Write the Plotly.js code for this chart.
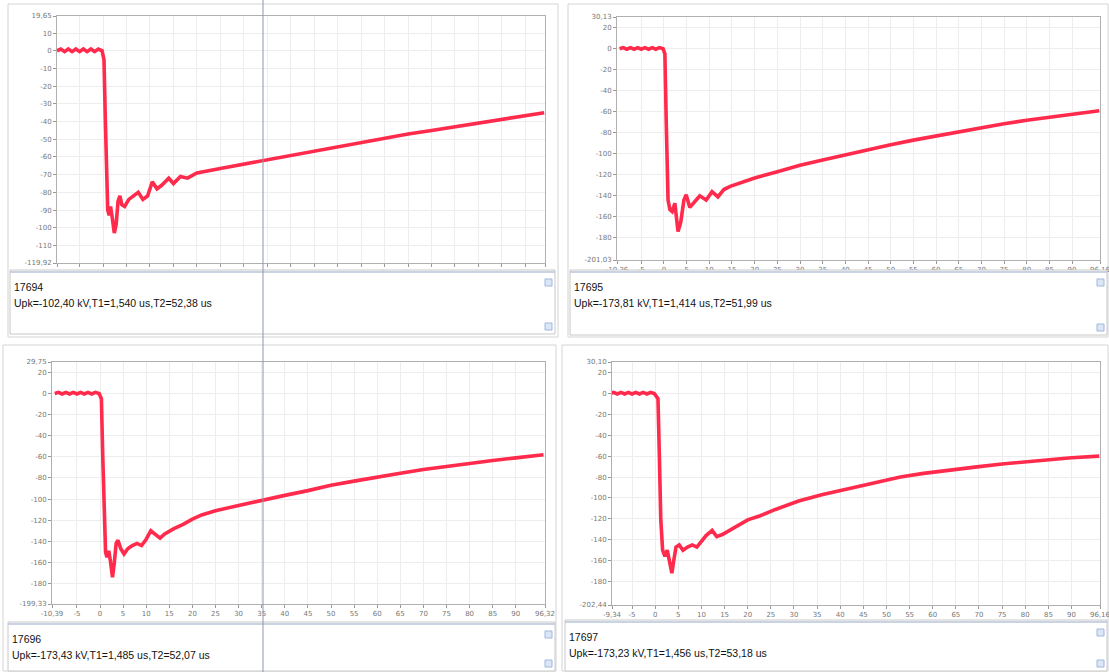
<!DOCTYPE html>
<html>
<head>
<meta charset="utf-8">
<script src="https://cdn.plot.ly/plotly-3.0.1.min.js"></script>
<style>html,body{margin:0;padding:0;background:#fff;}#chart{width:1109px;height:672px;}</style>
</head>
<body>
<div id="chart"></div>
<script>
// ---------- data (time in us, voltage in kV) ----------
const shotIds = ["17694", "17695", "17696", "17697"];
const shotTexts = [
  "Upk=-102,40 kV,T1=1,540 us,T2=52,38 us",
  "Upk=-173,81 kV,T1=1,414 us,T2=51,99 us",
  "Upk=-173,43 kV,T1=1,485 us,T2=52,07 us",
  "Upk=-173,23 kV,T1=1,456 us,T2=53,18 us"
];

const preT = [-9.8, -9.0, -8.2, -7.4, -6.6, -5.8, -5.0, -4.2, -3.4, -2.6, -1.8, -1.0, -0.2];
const preV = [0, 1, -0.5, 1, -0.5, 1, -0.5, 1, -0.5, 1, -0.5, 1, 0];

const t1 = [0.2, 0.5, 0.8, 1.0, 1.3, 1.6, 2.0, 2.4, 2.8, 3.2, 3.6, 4.0, 4.6, 5.5, 6.5, 7.5, 8.5, 9.5, 10.5, 11.5, 12.5, 14, 15, 16.5, 18, 20, 25, 30, 35, 40, 45, 50, 55, 60, 65, 70, 75, 80, 85, 90, 94];
const v1 = [-5, -40, -80, -90, -93, -88, -95, -103, -98, -85, -82, -87, -88, -84, -82, -80, -84, -82, -74, -78, -76, -72, -75, -71, -72, -69, -66.5, -64, -61.5, -59, -56.5, -54, -51.5, -49.5, -47, -45, -43, -41, -39, -36.5, -35];

const t2 = [0.2, 0.5, 0.9, 1.3, 1.8, 2.4, 3.1, 3.7, 4.4, 4.9, 5.7, 7.1, 7.9, 9.3, 10.6, 11.9, 13.2, 14.6, 20, 25, 30, 35, 40, 45, 50, 55, 60, 65, 70, 75, 80, 85, 90, 96];
const v2 = [-5, -70, -144, -153, -155, -147, -174, -165, -144, -139, -151, -144, -140, -144, -136, -141, -134, -131, -123, -117, -111, -106, -101, -96, -91.5, -87, -83, -79, -75, -71.5, -68, -65, -62, -59];

const t3 = [0.3, 0.6, 0.9, 1.2, 1.5, 1.9, 2.3, 2.7, 3.1, 3.5, 3.9, 4.5, 5.2, 6, 7, 8, 9, 10, 11, 12, 13, 14, 16, 18, 20, 22, 25, 30, 35, 40, 45, 50, 55, 60, 65, 70, 75, 80, 85, 90, 96];
const v3 = [-5, -60, -120, -150, -155, -149, -160, -174, -160, -142, -139, -147, -152, -147, -144, -142, -144, -138, -130, -133, -137, -133, -128, -124, -119, -115, -111, -106, -101, -96.5, -92, -87, -83, -79, -75.5, -72, -69, -66, -63.5, -61, -58];

const t4 = [0.6, 0.9, 1.2, 1.6, 2.1, 2.6, 3.0, 3.6, 4.0, 4.5, 5.2, 6, 7, 8, 9, 10, 11, 12.3, 13.3, 14.5, 16, 18, 20, 22.7, 26, 31, 36, 42, 47, 53, 58, 64, 70, 75, 80, 85, 90, 96];
const v4 = [-5, -60, -120, -150, -156, -150, -160, -172, -160, -147, -145, -150, -147, -145, -147, -142, -136, -131, -137, -135, -131, -126, -121, -117, -111, -103, -97, -91, -86, -80, -76.5, -73, -70, -67.5, -65.5, -63.5, -61.5, -60];

// axis ranges and their end labels as printed by the recorder
const xRanges = [[-9.81, 94.18], [-10.36, 96.16], [-10.39, 96.32], [-9.34, 96.16]];
const xEndLabels = [["-9,81", "94,18"], ["-10,36", "96,16"], ["-10,39", "96,32"], ["-9,34", "96,16"]];
const yRanges = [[-119.92, 19.65], [-201.03, 30.13], [-199.33, 29.75], [-202.44, 30.10]];
const yEndLabels = [["-119,92", "19,65"], ["-201,03", "30,13"], ["-199,33", "29,75"], ["-202,44", "30,10"]];
const xTicks = [-5, 0, 5, 10, 15, 20, 25, 30, 35, 40, 45, 50, 55, 60, 65, 70, 75, 80, 85, 90];
const yTicksSmall = [-110, -100, -90, -80, -70, -60, -50, -40, -30, -20, -10, 0, 10];
const yTicksLarge = [-180, -160, -140, -120, -100, -80, -60, -40, -20, 0, 20];

// ---------- layout geometry (pixels) ----------
const W = 1109, H = 672;
const px = x => x / W;
const py = y => 1 - y / H;
const plotBoxes = [[57, 545, 16, 263], [617, 1100, 17, 260], [52, 545, 362, 604], [612, 1100, 362, 605]];
const textBoxes = [[10, 555, 270, 334], [570, 1107, 270, 335], [8, 555, 622, 671], [565, 1107, 620, 671]];
const frames = [[8, 558, 4, 337], [568, 1108, 4, 337], [3, 556, 345, 671], [562, 1108, 345, 671]];

const tSeries = [t1, t2, t3, t4];
const vSeries = [v1, v2, v3, v4];

const traces = [];
const layout = {
  width: W, height: H,
  margin: {l: 0, r: 0, t: 0, b: 0},
  paper_bgcolor: "#ffffff",
  plot_bgcolor: "#ffffff",
  showlegend: false,
  font: {family: "DejaVu Sans, sans-serif", size: 7, color: "#777"},
  shapes: [],
  annotations: []
};

for (let i = 0; i < 4; i++) {
  const sfx = i === 0 ? "" : String(i + 1);
  const [xl, xr, yt, yb] = plotBoxes[i];
  traces.push({
    type: "scatter", mode: "lines",
    x: preT.concat(tSeries[i]),
    y: preV.concat(vSeries[i]),
    xaxis: "x" + sfx, yaxis: "y" + sfx,
    line: {color: "#ff2a4c", width: 3.6},
    hoverinfo: "skip"
  });
  const xtv = [xRanges[i][0]].concat(xTicks, [xRanges[i][1]]);
  const xtt = [xEndLabels[i][0]].concat(xTicks.map(String), [xEndLabels[i][1]]);
  const yt0 = i === 0 ? yTicksSmall : yTicksLarge;
  const ytv = [yRanges[i][0]].concat(yt0, [yRanges[i][1]]);
  const ytt = [yEndLabels[i][0]].concat(yt0.map(String), [yEndLabels[i][1]]);
  layout["xaxis" + sfx] = {
    domain: [px(xl), px(xr)], anchor: "y" + sfx, range: xRanges[i],
    tickmode: "array", tickvals: xtv, ticktext: xtt,
    ticks: "outside", ticklen: 3, tickcolor: "#999",
    showline: true, linecolor: "#b0b0b0", mirror: true,
    showgrid: true, gridcolor: "#ededed", zeroline: false,
    ticklabeloverflow: "allow",
    tickfont: {size: 7, color: "#777"}, fixedrange: true
  };
  layout["yaxis" + sfx] = {
    domain: [py(yb), py(yt)], anchor: "x" + sfx, range: yRanges[i],
    tickmode: "array", tickvals: ytv, ticktext: ytt,
    ticks: "outside", ticklen: 3, tickcolor: "#999",
    showline: true, linecolor: "#b0b0b0", mirror: true,
    showgrid: true, gridcolor: "#ededed", zeroline: false,
    ticklabeloverflow: "allow",
    tickfont: {size: 7, color: "#777"}, fixedrange: true
  };

  // panel frame
  const [fl, fr, ft, fb] = frames[i];
  layout.shapes.push({type: "rect", xref: "paper", yref: "paper",
    x0: px(fl), x1: px(fr), y0: py(fb), y1: py(ft),
    line: {color: "#d4d4d4", width: 1}, fillcolor: "rgba(0,0,0,0)", layer: "below"});
  // text box
  const [bl, br, bt, bb] = textBoxes[i];
  layout.shapes.push({type: "rect", xref: "paper", yref: "paper",
    x0: px(bl), x1: px(br), y0: py(bb), y1: py(bt),
    line: {color: "#c8c8c8", width: 1}, fillcolor: "#ffffff"});
  layout.shapes.push({type: "line", xref: "paper", yref: "paper",
    x0: px(bl), x1: px(br), y0: py(bt + 2), y1: py(bt + 2),
    line: {color: "#b8c4d8", width: 1.5}});
  // scroll arrows
  [bt + 13, bb - 7].forEach(cy => {
    layout.shapes.push({type: "rect", xref: "paper", yref: "paper",
      x0: px(br - 10), x1: px(br - 3), y0: py(cy + 3), y1: py(cy - 4),
      line: {color: "#9fb6dc", width: 1}, fillcolor: "#dbe6f6"});
  });
  layout.annotations.push({xref: "paper", yref: "paper", x: px(bl + 2), y: py(bt + 17),
    xanchor: "left", yanchor: "middle", showarrow: false, text: shotIds[i],
    font: {family: "Liberation Sans, Arial, sans-serif", size: 10.5, color: "#111"}});
  layout.annotations.push({xref: "paper", yref: "paper", x: px(bl + 2), y: py(bt + 33),
    xanchor: "left", yanchor: "middle", showarrow: false, text: shotTexts[i],
    font: {family: "Liberation Sans, Arial, sans-serif", size: 10.5, color: "#111"}});
}

// scanner/cursor line crossing the whole sheet
layout.shapes.push({type: "line", xref: "paper", yref: "paper",
  x0: px(263), x1: px(263), y0: 0, y1: 1, line: {color: "#8a98b0", width: 1}});

Plotly.newPlot("chart", traces, layout, {displayModeBar: false, staticPlot: true});
</script>
</body>
</html>
